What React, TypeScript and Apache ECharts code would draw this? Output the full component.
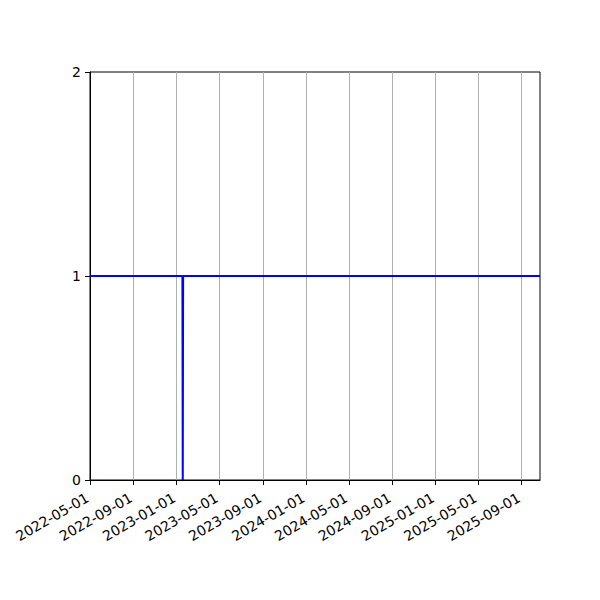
import React, { useEffect, useRef } from "react";
import * as echarts from "echarts";

// series: daily flag, 1 everywhere except one day at 0
const dates: string[] = ["2022-05-01", "2023-01-17", "2023-01-18", "2023-01-19", "2025-10-23"];
const values: number[] = [1, 1, 0, 1, 1];

// axis range and tick labels
const xMin = "2022-05-01";
const xMax = "2025-10-23";
const xTicks: string[] = [
  "2022-05-01", "2022-09-01", "2023-01-01", "2023-05-01", "2023-09-01",
  "2024-01-01", "2024-05-01", "2024-09-01", "2025-01-01", "2025-05-01", "2025-09-01",
];
const yTicks: number[] = [0, 1, 2];

const toTs = (s: string) => {
  const [y, m, d] = s.split("-").map(Number);
  return Date.UTC(y, m - 1, d);
};
const fmt = (v: number) => new Date(v).toISOString().slice(0, 10);

const App: React.FC = () => {
  const chartRef = useRef<HTMLDivElement>(null);

  useEffect(() => {
    const chart = echarts.init(chartRef.current!, null, { renderer: "svg" });
    const tickTs = xTicks.map(toTs);

    const option: any = {
      animation: false,
      grid: {
        left: 90,
        right: 60,
        top: 72,
        bottom: 120,
        show: true,
        borderColor: "#000",
        borderWidth: 1,
        backgroundColor: "transparent",
      },
      xAxis: {
        type: "value",
        min: toTs(xMin),
        max: toTs(xMax),
        axisLine: { show: true, lineStyle: { color: "#000", width: 1 } },
        axisTick: {
          show: true,
          inside: false,
          length: 5,
          lineStyle: { color: "#000", width: 1 },
          customValues: tickTs,
        },
        axisLabel: {
          show: true,
          customValues: tickTs,
          rotate: 30,
          margin: 15,
          padding: [0, 3, 0, 0],
          color: "#000",
          fontSize: 14,
          fontFamily: "DejaVu Sans",
          formatter: (v: number) => fmt(v),
        },
        splitLine: { show: true, lineStyle: { color: "#b0b0b0", width: 1 } },
      },
      yAxis: {
        type: "value",
        min: yTicks[0],
        max: yTicks[yTicks.length - 1],
        interval: 1,
        axisLine: { show: true, lineStyle: { color: "#000", width: 1 } },
        axisTick: { show: true, inside: false, length: 5, lineStyle: { color: "#000", width: 1 } },
        axisLabel: {
          color: "#000",
          fontSize: 14,
          fontFamily: "DejaVu Sans",
          margin: 9,
        },
        splitLine: { show: false },
      },
      series: [
        {
          type: "line",
          data: dates.map((d, i) => [toTs(d), values[i]]),
          showSymbol: false,
          symbol: "none",
          lineStyle: { color: "#0000ff", width: 2 },
          clip: true,
        },
      ],
    };

    chart.setOption(option);
    return () => {
      chart.dispose();
    };
  }, []);

  return <div ref={chartRef} style={{ width: 600, height: 600, margin: -8 }} />;
};

export default App;
